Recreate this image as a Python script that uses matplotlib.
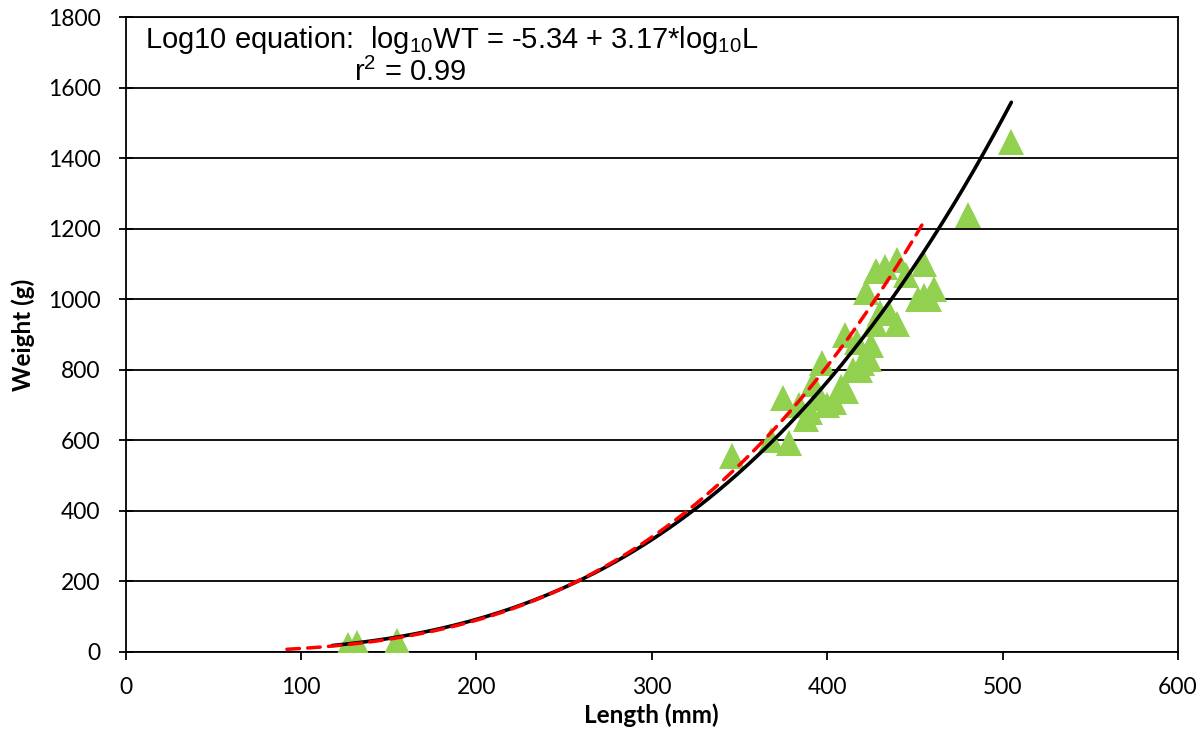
import numpy as np
import matplotlib
matplotlib.use("Agg")
import matplotlib.pyplot as plt
from matplotlib import font_manager as fm

# ---- data ----
length_mm = [127, 132, 155,
             346, 368, 375, 378, 384, 388, 390, 392, 395, 397, 400, 404,
             408, 410, 411, 415, 417, 419, 420, 422, 424, 425, 427, 428,
             430, 433, 435, 440, 440, 445, 452, 455, 455, 458, 461, 480, 505]
weight_g = [20, 25, 30,
            555, 600, 720, 592, 700, 660, 680, 760, 720, 820, 700, 710,
            750, 900, 740, 800, 880, 800, 820, 1020, 830, 870, 930, 1080,
            960, 1090, 960, 1110, 930, 1070, 1000, 1100, 1010, 1000, 1030, 1240, 1445]

# power trend line (black): W = 10**trend_log_a * L**trend_b
trend_log_a = -5.0524
trend_b = 3.05
trend_range = (118, 505)

# log10 equation (red dashed): log10 WT = -5.34 + 3.17*log10 L
eq_log_a = -5.34
eq_b = 3.17
eq_range = (92, 454)

x_ticks = [0, 100, 200, 300, 400, 500, 600]
y_ticks = [0, 200, 400, 600, 800, 1000, 1200, 1400, 1600, 1800]

tick_font = "Lato"
avail = {f.name for f in fm.fontManager.ttflist}
narrow = "Liberation Sans Narrow" if "Liberation Sans Narrow" in avail else "Liberation Sans"

fig = plt.figure(figsize=(12.04, 7.32), dpi=100)
ax = fig.add_axes([125.5 / 1204, 1 - 652 / 732, (1178 - 125.5) / 1204, (652 - 17) / 732])

ax.set_xlim(x_ticks[0], x_ticks[-1])
ax.set_ylim(y_ticks[0], y_ticks[-1])
ax.set_xticks(x_ticks)
ax.set_yticks(y_ticks)
ax.yaxis.grid(True, color="black", linewidth=1.3)
ax.set_axisbelow(True)
for s in ax.spines.values():
    s.set_linewidth(1.3)
    s.set_color("black")

ax.tick_params(axis="x", direction="out", length=6, width=1.3, pad=12,
               labelsize=16.5)
ax.tick_params(axis="y", direction="inout", length=10, width=1.3, pad=13,
               labelsize=16.5)
for lab in ax.get_xticklabels() + ax.get_yticklabels():
    lab.set_fontfamily(tick_font)

# scatter
ax.plot(length_mm, weight_g, linestyle="none", marker="^", markersize=19,
        color="#92D050", markeredgewidth=0, zorder=3)

# trend line
Lt = np.linspace(trend_range[0], trend_range[1], 200)
ax.plot(Lt, 10 ** trend_log_a * Lt ** trend_b, color="black", linewidth=2.6,
        solid_capstyle="round", zorder=4)

# log10 equation curve
Le = np.linspace(eq_range[0], eq_range[1], 200)
ax.plot(Le, 10 ** eq_log_a * Le ** eq_b, color="#FF0000", linewidth=2.5,
        linestyle=(0, (3.6, 2.4)), dash_capstyle="round", zorder=5)

ax.set_xlabel("Length (mm)", fontfamily=tick_font, fontweight="bold",
              fontsize=17.5, labelpad=4)
ax.set_ylabel("Weight (g)", fontfamily=tick_font, fontweight="bold",
              fontsize=17.5, labelpad=9)

plt.rcParams["mathtext.fontset"] = "custom"
plt.rcParams["mathtext.rm"] = narrow
plt.rcParams["mathtext.it"] = narrow
plt.rcParams["mathtext.default"] = "rm"

fig.text(145 / 1204, 1 - 48 / 732,
         r"Log10 equation:  log$_{10}$WT = -5.34 + 3.17*log$_{10}$L",
         fontfamily=narrow, fontsize=21, ha="left", va="baseline")
fig.text(410 / 1204, 1 - 81 / 732, r"r$^{2}$ = 0.99",
         fontfamily=narrow, fontsize=21, ha="center", va="baseline")

fig.savefig("out.png", dpi=100)
